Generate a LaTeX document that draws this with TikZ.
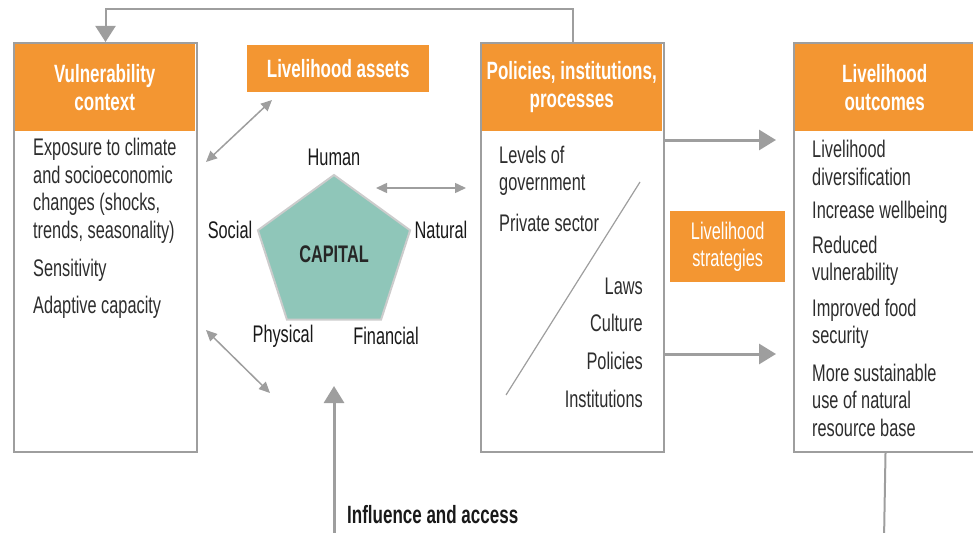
\documentclass[tikz,border=0pt]{standalone}
\usepackage{fontspec}
\setmainfont{Liberation Sans}[FakeStretch=0.68]
\usepackage{tikz}
\usetikzlibrary{shapes.geometric, arrows.meta, positioning, calc}
\definecolor{slOrange}{RGB}{243,150,50}
\definecolor{slGray}{RGB}{158,158,158}
\definecolor{slTeal}{RGB}{143,198,185}
\definecolor{slText}{RGB}{45,45,45}
\newcommand{\bodysize}{\fontsize{24}{27.5}\selectfont}
\newcommand{\headsize}{\fontsize{25}{28}\selectfont\bfseries}

\begin{document}
\begin{tikzpicture}[x=1pt, y=-1pt,
  panel/.style={draw=slGray, line width=2pt, minimum width=183pt, minimum height=409pt, inner sep=0pt, anchor=north west},
  head/.style={fill=slOrange, text=white, font=\headsize, align=center, minimum width=181pt, minimum height=88pt, inner sep=0pt, anchor=north west},
  tag/.style={fill=slOrange, text=white, align=center, inner sep=0pt, anchor=north west},
  body/.style={text=slText, font=\bodysize, align=left, inner sep=0pt, anchor=west},
  lbl/.style={text=black!90, font=\bodysize, inner sep=0pt},
  thinarrow/.style={draw=slGray, line width=1.5pt, {Triangle[length=11pt,width=10pt]}-{Triangle[length=11pt,width=10pt]}},
  bigarrow/.style={draw=slGray, line width=3pt, -{Triangle[length=17pt,width=20pt]}}]
\useasboundingbox (0,0) rectangle (973,532);
\clip (0,0) rectangle (973,532);

% vulnerability context
\node[head] (vulhead) at (14,43) {Vulnerability\\context};
\node[panel] (vul) at (13,42) {};
\node[body] (vulA) at (33,191) {Exposure to climate\\and socioeconomic\\changes (shocks,\\trends, seasonality)};
\node[body] (vulB) at (33,270) {Sensitivity};
\node[body] (vulC) at (33,307) {Adaptive capacity};

% livelihood assets
\node[tag, font=\headsize, minimum width=182pt, minimum height=47pt] (assets) at (247,45) {Livelihood assets};
\node[regular polygon, regular polygon sides=5, minimum size=160pt, inner sep=0pt, fill=slTeal, draw=black!20, line width=2pt] (cap) at (334,255) {};
\node[font=\fontsize{24}{26}\selectfont\bfseries, text=black!85] (captxt) at (334,254) {CAPITAL};
\node[lbl] (human) at (334,157) {Human};
\node[lbl] (social) at (230,230) {Social};
\node[lbl] (natural) at (441,230) {Natural};
\node[lbl] (physical) at (283,336) {Physical};
\node[lbl] (financial) at (386,336) {Financial};

% policies, institutions, processes
\node[head] (polhead) at (481,43) {Policies, institutions,\\processes};
\node[panel] (pol) at (480,42) {};
\node[body] (polA) at (499,171) {Levels of\\government};
\node[body] (polB) at (499,223) {Private sector};
\node[body, anchor=east] (polC) at (643,286) {Laws};
\node[body, anchor=east] (polD) at (643,323) {Culture};
\node[body, anchor=east] (polE) at (643,361) {Policies};
\node[body, anchor=east] (polF) at (643,399) {Institutions};
\draw[slGray, line width=1.2pt] (640,182) -- (506,395);

% strategies and outcomes
\node[tag, font=\bodysize, minimum width=115pt, minimum height=71pt] (strat) at (670,211) {Livelihood\\strategies};
\node[head] (outhead) at (794,43) {Livelihood\\outcomes};
\node[panel] (outc) at (793,42) {};
\node[body] (outA) at (812,163) {Livelihood\\diversification};
\node[body] (outB) at (812,212) {Increase wellbeing};
\node[body] (outC) at (812,261) {Reduced\\vulnerability};
\node[body] (outD) at (812,324) {Improved food\\security};
\node[body] (outE) at (812,400) {More sustainable\\use of natural\\resource base};
\node[font=\fontsize{25}{27}\selectfont\bfseries, text=black!90, anchor=west, inner sep=0pt] (infl) at (347,515) {Influence and access};

% connectors
\coordinate (assetsEnd) at (272,100);
\coordinate (vulEnd) at (206,162);
\coordinate (capEnd) at (376,188);
\coordinate (polEnd) at (466,188);
\coordinate (vulLow) at (206,330);
\coordinate (capLow) at (270,393);
\coordinate (inflFoot) at (334,540);
\coordinate (inflTip) at (334,386);
\coordinate (outTipA) at (776,140);
\coordinate (outTipB) at (776,354);
\coordinate (outFoot) at (884,540);

\draw[draw=slGray, line width=2pt, -{Triangle[length=16pt,width=20pt]}] (pol.north) -- ++(0,-33) -| (vul.north);
\draw[thinarrow] (assetsEnd) -- (vulEnd);
\draw[thinarrow] (capEnd) -- (polEnd);
\draw[thinarrow] (vulLow) -- (capLow);
\draw[bigarrow] (inflFoot) -- (inflTip);
\draw[bigarrow] (pol.east |- outTipA) -- (outTipA);
\draw[bigarrow] (pol.east |- outTipB) -- (outTipB);
\draw[draw=slGray, line width=2pt] (outc.south) -- (outFoot);
\end{tikzpicture}
\end{document}
